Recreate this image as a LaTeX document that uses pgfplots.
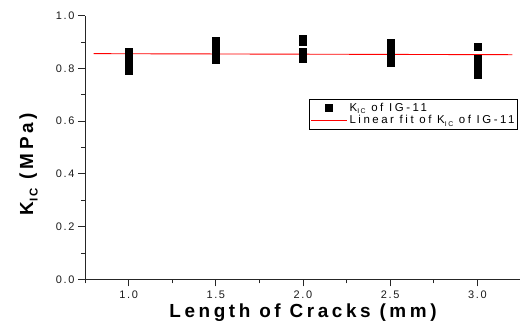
\documentclass[border=0pt]{standalone}
\usepackage{pgfplots}
\pgfplotsset{compat=1.18}
\usepackage{fontspec}
\setmainfont{Liberation Sans}
\newfontfamily\tickfont[LetterSpace=15]{Liberation Sans}
\newfontfamily\legfont[LetterSpace=22]{Liberation Sans}
\newfontfamily\labfont[LetterSpace=19]{Liberation Sans}
\definecolor{txt}{HTML}{1A1A1A}
\newcommand{\sub}[1]{\raisebox{-0.45ex}{\scalebox{0.6}{#1}}}
\begin{document}
\begin{tikzpicture}
\begin{axis}[
  at={(85bp,54.7bp)}, anchor=south west,
  scale only axis, width=436bp, height=263.6bp,
  xmin=0.75, xmax=3.25, ymin=0, ymax=1.0,
  axis x line*=bottom, axis y line*=left,
  axis line style={-, line width=1bp, black!85},
  xtick={1.0,1.5,2.0,2.5,3.0},
  minor xtick={0.75,1.25,1.75,2.25,2.75,3.25},
  ytick={0,0.2,0.4,0.6,0.8,1.0},
  minor ytick={0.1,0.3,0.5,0.7,0.9},
  tick align=outside,
  major tick length=7bp, minor tick length=4bp,
  every tick/.style={black!85, line width=0.8bp},
  /pgf/number format/assume math mode=true,
  /pgf/number format/.cd, fixed, fixed zerofill, precision=1, /pgfplots/.cd,
  tick label style={font=\tickfont\fontsize{11}{13}\selectfont, text=txt},
  xticklabel style={yshift=-1bp},
  xlabel={\labfont\bfseries Length of Cracks (mm)},
  xlabel style={font=\fontsize{19}{22}\selectfont, at={(axis description cs:0.5,-0.146)}, anchor=base},
  ylabel={\labfont\bfseries K\sub{IC} (MPa)},
  ylabel style={font=\fontsize{19}{22}\selectfont, at={(axis description cs:-0.119,0.437)}, anchor=base},
  legend style={at={(axis description cs:0.993,0.684)}, anchor=north east,
    draw=black, line width=0.7bp, font=\legfont\fontsize{11.5}{13}\selectfont,
    inner xsep=1bp, inner ysep=1.5bp, row sep=-1bp,
    nodes={inner sep=2bp}},
  legend cell align=left,
  legend image code/.code={\draw[mark repeat=2,mark phase=2,#1] plot coordinates {(0bp,0bp) (18bp,0bp) (36bp,0bp)};},
]
\addplot[only marks, mark=square*, mark size=3.5bp, black] coordinates {
  (1.0,0.862) (1.0,0.850) (1.0,0.836) (1.0,0.822) (1.0,0.806) (1.0,0.792)
  (1.5,0.905) (1.5,0.895) (1.5,0.884) (1.5,0.872) (1.5,0.860) (1.5,0.832)
  (2.0,0.913) (2.0,0.902) (2.0,0.862) (2.0,0.848) (2.0,0.835)
  (2.5,0.896) (2.5,0.884) (2.5,0.870) (2.5,0.858) (2.5,0.845) (2.5,0.822)
  (3.0,0.883) (3.0,0.836) (3.0,0.818) (3.0,0.802) (3.0,0.788) (3.0,0.778)
};
\addlegendentry{K\sub{IC} of IG-11}
\addplot[red, line width=0.9bp, no marks] coordinates {(0.8,0.856) (3.2,0.852)};
\addlegendentry{Linear fit of K\sub{IC} of IG-11}
\end{axis}
\pgfresetboundingbox
\path (0,0) rectangle (520bp,334bp);
\end{tikzpicture}
\end{document}
